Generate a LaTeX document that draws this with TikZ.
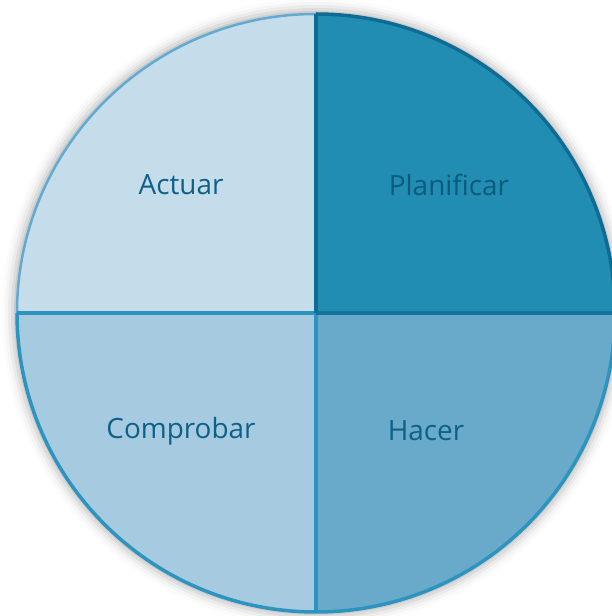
\documentclass[tikz,border=0pt]{standalone}
\usepackage{fontspec}
\setmainfont{Open Sans}
\usetikzlibrary{positioning, calc}
\definecolor{actfill}{HTML}{C5DCEA}
\definecolor{planfill}{HTML}{228DB3}
\definecolor{compfill}{HTML}{A6CBE0}
\definecolor{hacfill}{HTML}{69AACA}
\definecolor{lightrim}{HTML}{62AAD0}
\definecolor{darkrim}{HTML}{0E6B94}
\definecolor{midrim}{HTML}{2C94BE}
\definecolor{labelblue}{HTML}{0D6189}

\begin{document}
\begin{tikzpicture}[x=1bp, y=1bp,
    label/.style={font=\fontsize{28}{32}\selectfont, text=labelblue}]
    \useasboundingbox (0,0) rectangle (612,616);
    \clip (0,0) rectangle (612,616);
    \coordinate (c) at (316,303);

    % Soft glow round the disc
    \foreach \r/\o in {314/0.015, 311/0.025, 308/0.04, 305/0.06, 302/0.08}
        \fill[black, opacity=\o] (c) circle (\r);

    % Quadrants
    \fill[planfill] (c) -- ++(0:300) arc (0:90:300) -- cycle;
    \fill[actfill] (c) -- ++(90:300) arc (90:180:300) -- cycle;
    \fill[compfill] (c) -- ++(180:300) arc (180:270:300) -- cycle;
    \fill[hacfill] (c) -- ++(270:300) arc (270:360:300) -- cycle;

    % Rims
    \draw[lightrim, line width=2.5] ($(c)+(90:299)$) arc (90:180:299);
    \draw[darkrim, line width=3.5] ($(c)+(0:299)$) arc (0:90:299);
    \draw[midrim, line width=3.5] ($(c)+(180:299)$) arc (180:360:299);

    % Dividers
    \draw[midrim, line width=3.5] (c) -- ++(180:299);
    \draw[midrim, line width=3.5] (c) -- ++(270:299);
    \draw[darkrim!80!midrim, line width=3.5] (c) -- ++(0:299);
    \draw[darkrim, line width=3.5] (c) -- ++(90:299);

    % Labels
    \node[label] (actuar) at (181,431) {Actuar};
    \node[label, text=darkrim!85!black] (planificar) at (449,431) {Planificar};
    \node[label] (comprobar) at (181,185) {Comprobar};
    \node[label] (hacer) at (426,185) {Hacer};
\end{tikzpicture}
\end{document}
